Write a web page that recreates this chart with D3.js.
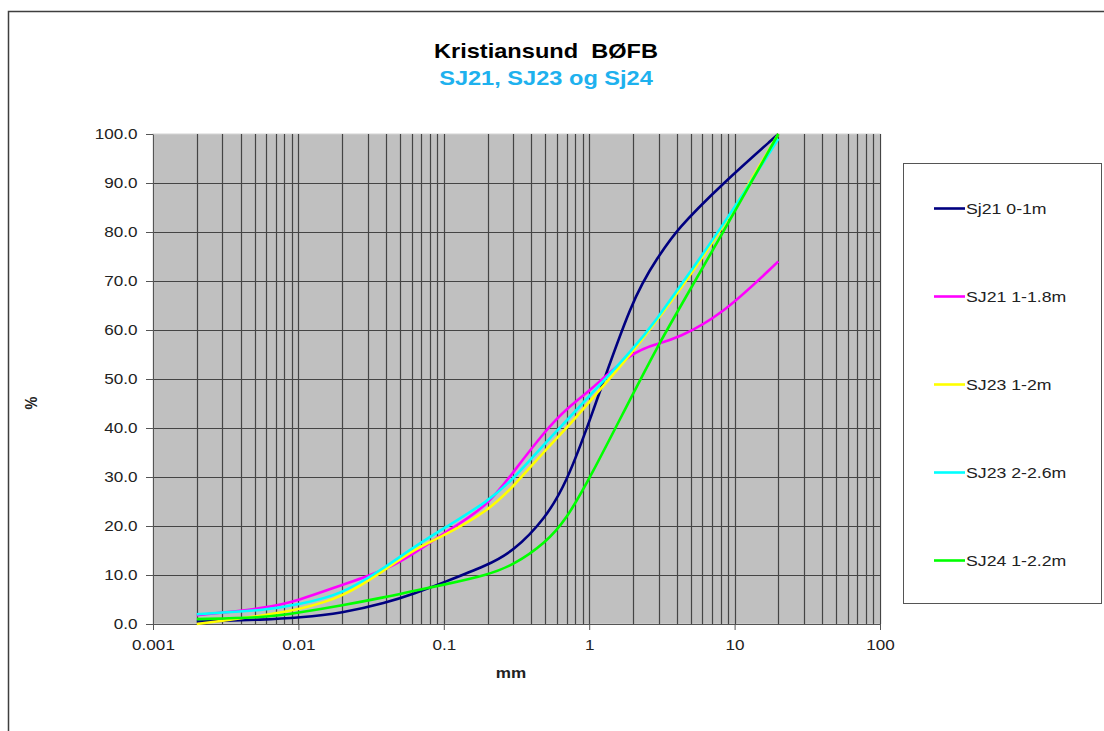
<!DOCTYPE html>
<html>
<head>
<meta charset="utf-8">
<script src="https://cdn.jsdelivr.net/npm/d3@7/dist/d3.min.js"></script>
<style>
  body { margin: 0; background: #fff; }
  text { font-family: "Liberation Sans", Arial, sans-serif; }
</style>
</head>
<body>
<script>
// grain sizes in mm, shared by every sample
var sizes = [0.002, 0.006, 0.01, 0.02, 0.04, 0.063, 0.1, 0.2, 0.3, 0.5, 0.7, 1, 2, 3, 4, 8, 20];

// percent passing for each sample
var sj21top = [0.5, 0.9, 1.3, 2.2, 4.3, 6.2, 8.5, 12, 14.8, 21.5, 29, 41, 67, 75, 80.5, 89.5, 100];
var sj21low = [1.8, 3.2, 4.8, 8, 11, 14.5, 18.5, 24, 31, 39.5, 44, 47.5, 55.7, 57.2, 58.3, 62.8, 74];
var sj23top = [0, 1.8, 3.0, 5.3, 11.2, 15.3, 18, 23, 28, 35.5, 40, 45.3, 55.5, 62.5, 67.3, 80, 100];
var sj23low = [2, 2.8, 4.0, 6, 11.7, 15.8, 19.5, 25, 29.5, 37, 41.5, 46.5, 56, 62.7, 68, 80.5, 99];
var sj24 = [1, 1.3, 2.3, 3.8, 5.5, 6.8, 8, 10, 12, 16.5, 21.5, 29.5, 47, 57, 63.5, 79, 100];

var seriesNames = ["Sj21 0-1m", "SJ21 1-1.8m", "SJ23 1-2m", "SJ23 2-2.6m", "SJ24 1-2.2m"];
var seriesColors = ["#000080", "#ff00ff", "#ffff00", "#00ffff", "#00ff00"];
var seriesValues = [sj21top, sj21low, sj23top, sj23low, sj24];

var yTicks = [0, 10, 20, 30, 40, 50, 60, 70, 80, 90, 100];
var xTicks = [0.001, 0.01, 0.1, 1, 10, 100];
var xTickLabels = ["0.001", "0.01", "0.1", "1", "10", "100"];

function main(){
  var w = 1104, h = 731;
  var sx = 1.18; // the original text is a bit wider than plain Arial

  var left = 153, right = 880, top = 134, bottom = 624;

  var svg = d3.select("body").append("svg")
    .attr("width", w)
    .attr("height", h);

  // outer chart frame
  svg.append("rect")
    .attr("x", 8.5).attr("y", 11.5)
    .attr("width", 1200).attr("height", 900)
    .attr("fill", "none")
    .attr("stroke", "#3f3f3f")
    .attr("stroke-width", 1.5);

  var x = d3.scaleLog().domain([0.001, 100]).range([left, right]);
  var y = d3.scaleLinear().domain([0, 100]).range([bottom, top]);

  // grey plot area
  svg.append("rect")
    .attr("x", left).attr("y", top)
    .attr("width", right - left).attr("height", bottom - top)
    .attr("fill", "#c0c0c0")
    .attr("stroke", "#d4d4d4");

  // vertical grid, every 1..9 of each decade
  svg.append("g").selectAll("line")
    .data(x.ticks().filter(function(d){ return d > 0.001; }))
    .enter().append("line")
    .attr("x1", function(d){ return Math.round(x(d)) + 0.5; })
    .attr("x2", function(d){ return Math.round(x(d)) + 0.5; })
    .attr("y1", top).attr("y2", bottom)
    .attr("stroke", "#444")
    .attr("stroke-width", 1.2);

  // horizontal grid
  svg.append("g").selectAll("line")
    .data(yTicks.filter(function(d){ return d > 0 && d < 100; }))
    .enter().append("line")
    .attr("x1", left).attr("x2", right)
    .attr("y1", function(d){ return Math.round(y(d)) + 0.5; })
    .attr("y2", function(d){ return Math.round(y(d)) + 0.5; })
    .attr("stroke", "#444")
    .attr("stroke-width", 1.2);

  // y axis
  var yAxis = svg.append("g")
    .attr("transform", "translate(" + left + ",0)")
    .call(d3.axisLeft(y).tickValues(yTicks).tickFormat(d3.format(".1f")).tickSize(7).tickSizeOuter(0));
  yAxis.select(".domain").attr("stroke", "#555");
  yAxis.selectAll(".tick line").attr("stroke", "#555");
  yAxis.selectAll("text")
    .attr("x", -15.5 / sx)
    .attr("transform", "scale(" + sx + ",1)")
    .attr("font-size", 14.5)
    .attr("fill", "#222");

  // x axis
  var xAxis = svg.append("g")
    .attr("transform", "translate(0," + bottom + ")")
    .call(d3.axisBottom(x).tickValues(xTicks)
      .tickFormat(function(d, i){ return xTickLabels[i]; })
      .tickSize(6).tickPadding(10).tickSizeOuter(0));
  xAxis.select(".domain").attr("stroke", "#555");
  xAxis.selectAll(".tick line").attr("stroke", "#555");
  xAxis.selectAll("text")
    .attr("transform", "scale(" + sx + ",1)")
    .attr("font-size", 14.5)
    .attr("fill", "#222");

  // the curves, smoothed like the spreadsheet lines
  var line = d3.line()
    .x(function(d){ return x(d[0]); })
    .y(function(d){ return y(d[1]); })
    .curve(d3.curveBasis);

  svg.append("g").selectAll("path")
    .data(seriesValues)
    .enter().append("path")
    .attr("d", function(vals){
      return line(sizes.map(function(s, i){ return [s, vals[i]]; }));
    })
    .attr("fill", "none")
    .attr("stroke", function(d, i){ return seriesColors[i]; })
    .attr("stroke-width", 2.6)
    .attr("stroke-linejoin", "round");

  // titles
  svg.append("text")
    .attr("transform", "translate(546,57.5) scale(" + sx + ",1)")
    .attr("text-anchor", "middle")
    .attr("font-size", 20).attr("font-weight", "bold")
    .attr("fill", "#000")
    .style("white-space", "pre")
    .text("Kristiansund  BØFB");
  svg.append("text")
    .attr("transform", "translate(546,85) scale(" + sx + ",1)")
    .attr("text-anchor", "middle")
    .attr("font-size", 20).attr("font-weight", "bold")
    .attr("fill", "#1eb1ee")
    .text("SJ21, SJ23 og Sj24");

  // axis titles
  svg.append("text")
    .attr("transform", "translate(511,678) scale(" + sx + ",1)")
    .attr("text-anchor", "middle")
    .attr("font-size", 14.5).attr("font-weight", "bold")
    .attr("fill", "#222")
    .text("mm");
  svg.append("text")
    .attr("transform", "translate(37,403) rotate(-90) scale(1," + sx + ")")
    .attr("text-anchor", "middle")
    .attr("font-size", 14.5).attr("font-weight", "bold")
    .attr("fill", "#222")
    .text("%");

  // legend
  var legend = svg.append("g");
  legend.append("rect")
    .attr("x", 903.5).attr("y", 163.5)
    .attr("width", 198).attr("height", 440)
    .attr("fill", "#fff")
    .attr("stroke", "#555");

  var items = legend.selectAll("g.item")
    .data(seriesNames)
    .enter().append("g")
    .attr("class", "item")
    .attr("transform", function(d, i){ return "translate(0," + (208.5 + i * 88) + ")"; });
  items.append("line")
    .attr("x1", 934).attr("x2", 965)
    .attr("stroke", function(d, i){ return seriesColors[i]; })
    .attr("stroke-width", 2.6);
  items.append("text")
    .attr("transform", "translate(966,5.5) scale(" + sx + ",1)")
    .attr("font-size", 15)
    .attr("fill", "#222")
    .text(function(d){ return d; });
}

window.onload = function() {
  main();
};
</script>
</body>
</html>
